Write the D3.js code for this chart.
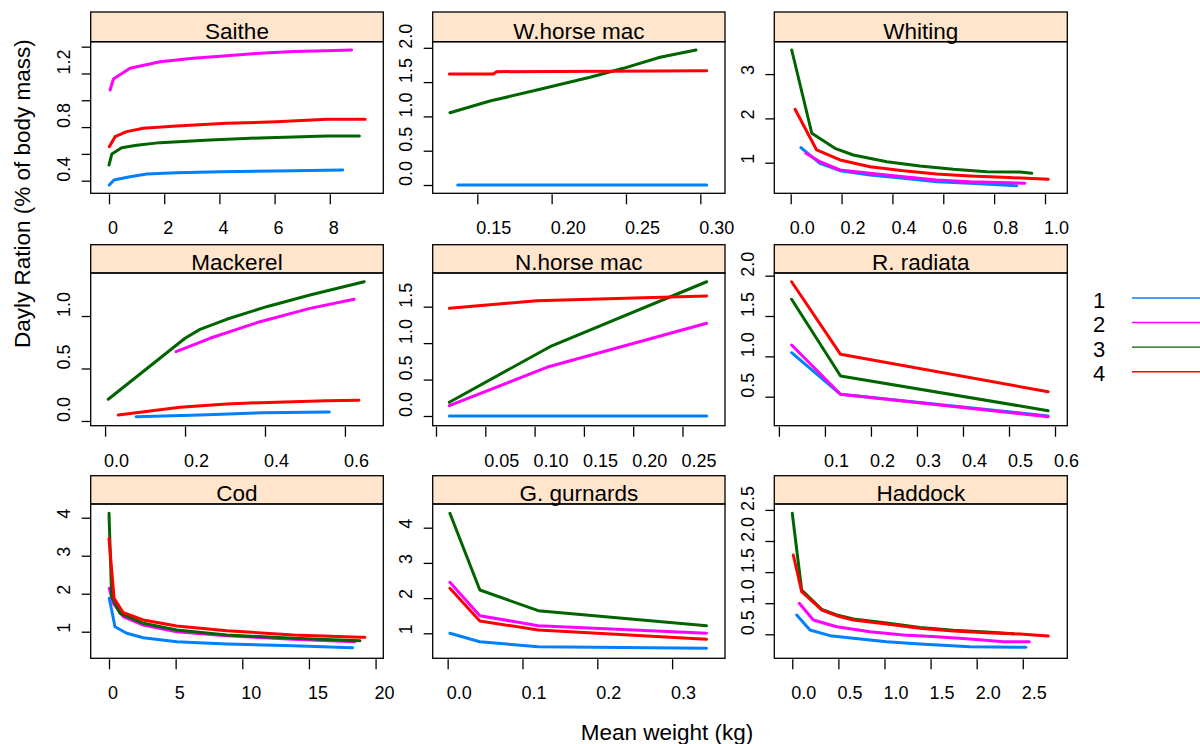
<!DOCTYPE html>
<html><head><meta charset="utf-8">
<script src="https://cdn.jsdelivr.net/npm/d3@7"></script>
<style>
body{margin:0;background:#fff}
svg{display:block}
text{font-family:"Liberation Sans",Arial,Helvetica,sans-serif;fill:#000}
</style>
</head><body>
<svg id="chart" width="1200" height="744"></svg>
<script>
// ---------- data ----------
const panelNames = ["Saithe","W.horse mac","Whiting","Mackerel","N.horse mac","R. radiata","Cod","G. gurnards","Haddock"];
const groups = ["1","2","3","4"];
const groupColors = ["#0080ff","#ff00ff","#006400","#ff0000"];

// each panel: [group1, group2, group3, group4], points [meanWeight, ration]
const saithe = [
  [[0.01,0.368],[0.18,0.405],[0.76,0.43],[1.37,0.45],[2.45,0.46],[4.02,0.467],[6.68,0.475],[8.47,0.48]],
  [[0.04,1.077],[0.16,1.159],[0.76,1.239],[1.85,1.288],[3.05,1.313],[4.26,1.333],[5.47,1.351],[6.68,1.363],[7.89,1.37],[8.79,1.375]],
  [[0,0.517],[0.1,0.599],[0.46,0.646],[1.0,0.664],[1.85,0.684],[3.66,0.704],[5.47,0.719],[7.89,0.734],[9.07,0.734]],
  [[0.01,0.654],[0.22,0.728],[0.64,0.766],[1.24,0.791],[2.45,0.808],[4.26,0.828],[6.08,0.84],[7.89,0.858],[9.28,0.858]]
];
const wHorseMac = [
  [[0.1368,0],[0.3043,0]],
  [],
  [[0.1316,1.054],[0.1585,1.224],[0.1922,1.395],[0.2258,1.57],[0.2482,1.701],[0.2729,1.862],[0.2971,1.968]],
  [[0.1312,1.618],[0.1608,1.618],[0.163,1.652],[0.3043,1.666]]
];
const whiting = [
  [[0.04,1.339],[0.115,0.986],[0.194,0.819],[0.312,0.722],[0.443,0.648],[0.574,0.571],[0.705,0.535],[0.889,0.481]],
  [[0.06,1.212],[0.115,1.023],[0.194,0.835],[0.312,0.761],[0.443,0.684],[0.574,0.61],[0.705,0.571],[0.921,0.535]],
  [[0.004,3.544],[0.083,1.664],[0.174,1.325],[0.246,1.174],[0.378,1.023],[0.508,0.926],[0.64,0.851],[0.771,0.797],[0.902,0.79],[0.948,0.761]],
  [[0.017,2.205],[0.102,1.287],[0.194,1.061],[0.312,0.91],[0.443,0.819],[0.574,0.745],[0.705,0.7],[0.836,0.67],[1.013,0.625]]
];
const mackerel = [
  [[0.0775,0.041],[0.2375,0.057],[0.396,0.079],[0.561,0.086]],
  [[0.1775,0.66],[0.2625,0.788],[0.3875,0.946],[0.5125,1.073],[0.623,1.159]],
  [[0.008,0.207],[0.2,0.788],[0.2375,0.873],[0.304,0.969],[0.404,1.089],[0.5125,1.2],[0.648,1.327]],
  [[0.033,0.057],[0.1875,0.13],[0.304,0.162],[0.3875,0.174],[0.471,0.184],[0.554,0.193],[0.635,0.197]]
];
const nHorseMac = [
  [[0.0135,0],[0.2745,0]],
  [[0.0135,0.141],[0.1123,0.668],[0.2745,1.272]],
  [[0.0135,0.188],[0.1156,0.951],[0.2745,1.842]],
  [[0.0135,1.477],[0.102,1.582],[0.2745,1.646]]
];
const rRadiata = [
  [[0.0276,1.045],[0.134,0.53],[0.585,0.261]],
  [[0.0276,1.141],[0.134,0.53],[0.585,0.252]],
  [[0.0276,1.707],[0.134,0.757],[0.585,0.327]],
  [[0.0276,1.925],[0.134,1.025],[0.585,0.562]]
];
const cod = [
  [[0.02,1.879],[0.45,1.132],[1.33,0.958],[2.57,0.842],[5.08,0.737],[8.83,0.676],[13.83,0.632],[18.28,0.579]],
  [[0.02,2.142],[0.32,1.747],[1.07,1.395],[2.57,1.176],[5.08,1.0],[8.83,0.895],[13.83,0.8],[18.45,0.737]],
  [[0,4.116],[0.2,1.921],[0.83,1.484],[2.57,1.221],[5.08,1.045],[8.83,0.913],[13.83,0.826],[18.83,0.763]],
  [[0,3.458],[0.38,1.879],[1.07,1.5],[2.57,1.308],[5.08,1.15],[8.83,1.026],[13.83,0.913],[18.83,0.853],[19.2,0.853]]
];
const gGurnards = [
  [[0.003,1.0],[0.043,0.761],[0.121,0.619],[0.346,0.574]],
  [[0.003,2.449],[0.043,1.5],[0.121,1.216],[0.346,1.0]],
  [[0.003,4.409],[0.043,2.23],[0.121,1.642],[0.346,1.216]],
  [[0.003,2.278],[0.043,1.349],[0.121,1.094],[0.346,0.83]]
];
const haddock = [
  [[0.048,0.81],[0.192,0.569],[0.409,0.478],[0.662,0.436],[1.024,0.381],[1.385,0.344],[1.927,0.301],[2.535,0.291]],
  [[0.076,0.998],[0.228,0.73],[0.482,0.622],[0.843,0.542],[1.204,0.489],[1.566,0.462],[1.927,0.424],[2.289,0.381],[2.571,0.381]],
  [[0,2.445],[0.102,1.212],[0.319,0.9],[0.482,0.81],[0.662,0.745],[1.024,0.68],[1.385,0.61],[1.746,0.565],[2.108,0.535],[2.4,0.51]],
  [[0.011,1.775],[0.102,1.185],[0.319,0.891],[0.482,0.799],[0.662,0.73],[1.024,0.666],[1.385,0.596],[1.746,0.553],[2.108,0.526],[2.47,0.505],[2.777,0.473]]
];
const panelData = [saithe, wHorseMac, whiting, mackerel, nHorseMac, rRadiata, cod, gGurnards, haddock];

// axis ticks and tick labels
const xTicks = [[0,2,4,6,8],[0.15,0.2,0.25,0.3],[0,0.2,0.4,0.6,0.8,1.0],[0,0.2,0.4,0.6],[0,0.05,0.1,0.15,0.2,0.25],[0,0.1,0.2,0.3,0.4,0.5,0.6],[0,5,10,15,20],[0,0.1,0.2,0.3],[0,0.5,1,1.5,2,2.5]];
const xLabels = [["0","2","4","6","8"],["0.15","0.20","0.25","0.30"],["0.0","0.2","0.4","0.6","0.8","1.0"],["0.0","0.2","0.4","0.6"],["","0.05","0.10","0.15","0.20","0.25"],["","0.1","0.2","0.3","0.4","0.5","0.6"],["0","5","10","15","20"],["0.0","0.1","0.2","0.3"],["0.0","0.5","1.0","1.5","2.0","2.5"]];
const yTicks = [[0.4,0.6,0.8,1.0,1.2,1.4],[0,0.5,1,1.5,2],[1,2,3],[0,0.5,1],[0,0.5,1,1.5],[0.5,1,1.5,2],[1,2,3,4],[1,2,3,4],[0.5,1,1.5,2,2.5]];
const yLabels = [["0.4","","0.8","","1.2",""],["0.0","0.5","1.0","1.5","2.0"],["1","2","3"],["0.0","0.5","1.0"],["0.0","0.5","1.0","1.5"],["0.5","1.0","1.5","2.0"],["1","2","3","4"],["1","2","3","4"],["0.5","1.0","1.5","2.0","2.5"]];

// scale domains (value ranges shown in each panel)
const xDomains = [[-0.663,9.938],[0.120,0.3166],[-0.0645,1.0877],[-0.036,0.696],[-0.00335,0.2931],[-0.01,0.6267],[-1.373,20.58],[-0.02,0.3707],[-0.195,2.983]];
const yDomains = [[0.306,1.437],[-0.121,2.089],[0.309,3.731],[-0.045,1.41],[-0.133,1.962],[0.1406,2.033],[0.3,4.361],[0.29,4.673],[0.114,2.595]];

const xTitle = "Mean weight (kg)";
const yTitle = "Dayly Ration (% of body mass)";

// ---------- layout ----------
const colX = [[90.7,383.3],[432.7,725],[774.3,1067.3]];
const rowY = [[12,41.7,193.3],[244.7,273,425.7],[475.7,504,658.3]]; // strip top, panel top, panel bottom
const FONT_TICK = 18, FONT_STRIP = 22.5, FONT_TITLE = 22.5;

const svg = d3.select("#chart");
svg.append("rect").attr("width",1200).attr("height",744).attr("fill","#fff");

panelNames.forEach((name, i) => {
  const col = i % 3, row = Math.floor(i / 3);
  const [x0, x1] = colX[col];
  const [st, pt, pb] = rowY[row];
  const x = d3.scaleLinear().domain(xDomains[i]).range([x0, x1]);
  const y = d3.scaleLinear().domain(yDomains[i]).range([pb, pt]);
  const g = svg.append("g");

  // strip
  g.append("rect").attr("x", x0).attr("y", st).attr("width", x1 - x0).attr("height", pt - st)
    .attr("fill", "#ffe5cc").attr("stroke", "#000").attr("stroke-width", 1.3);
  g.append("text").attr("x", (x0 + x1) / 2).attr("y", pt - 2.6).attr("text-anchor", "middle")
    .attr("font-size", FONT_STRIP).text(name);

  // lines
  const line = d3.line().x(d => x(d[0])).y(d => y(d[1]));
  panelData[i].forEach((s, k) => {
    if (!s.length) return;
    g.append("path").attr("d", line(s)).attr("fill", "none").attr("stroke", groupColors[k])
      .attr("stroke-width", 3).attr("stroke-linejoin", "round").attr("stroke-linecap", "round");
  });

  // panel frame
  g.append("rect").attr("x", x0).attr("y", pt).attr("width", x1 - x0).attr("height", pb - pt)
    .attr("fill", "none").attr("stroke", "#000").attr("stroke-width", 1.3);

  // x axis ticks
  const xa = g.append("g").attr("transform", `translate(0,${pb + 1})`)
    .call(d3.axisBottom(x).tickValues(xTicks[i]).tickSize(10).tickFormat(""));
  xa.select(".domain").remove();
  xa.selectAll(".tick line").attr("stroke", "#000").attr("stroke-width", 1.3);
  // x tick labels (left-aligned on the tick, as in the reference)
  xTicks[i].forEach((v, j) => {
    if (!xLabels[i][j]) return;
    g.append("text").attr("x", x(v) - 1).attr("y", pb + 41).attr("font-size", FONT_TICK)
      .attr("text-anchor", "start").text(xLabels[i][j]);
  });

  // y axis ticks
  const ya = g.append("g").attr("transform", `translate(${x0},0)`)
    .call(d3.axisLeft(y).tickValues(yTicks[i]).tickSize(9).tickFormat(""));
  ya.select(".domain").remove();
  ya.selectAll(".tick line").attr("stroke", "#000").attr("stroke-width", 1.3);
  yTicks[i].forEach((v, j) => {
    if (!yLabels[i][j]) return;
    g.append("text").attr("transform", `translate(${x0 - 20.5},${y(v) + 1}) rotate(-90)`)
      .attr("font-size", FONT_TICK).attr("text-anchor", "start").text(yLabels[i][j]);
  });
});

// axis titles
svg.append("text").attr("x", 667).attr("y", 740).attr("text-anchor", "middle")
  .attr("font-size", FONT_TITLE).text(xTitle);
svg.append("text").attr("transform", "translate(30,348) rotate(-90)").attr("text-anchor", "start")
  .attr("font-size", FONT_TITLE).text(yTitle);

// legend
const legend = svg.append("g");
const ly = d3.scaleLinear().domain([0, 3]).range([298, 371.7]);
groups.forEach((gname, k) => {
  legend.append("text").attr("x", 1099).attr("y", ly(k) + 9.5).attr("text-anchor", "middle")
    .attr("font-size", 22).text(gname);
  legend.append("line").attr("x1", 1132).attr("x2", 1200).attr("y1", ly(k)).attr("y2", ly(k))
    .attr("stroke", groupColors[k]).attr("stroke-width", 1.4);
});
</script>
</body></html>
